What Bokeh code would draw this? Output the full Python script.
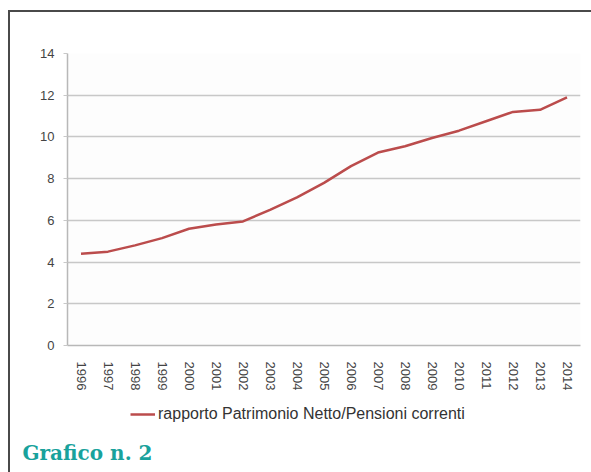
import math
from bokeh.plotting import figure
from bokeh.layouts import column
from bokeh.models import (Range1d, FactorRange, Legend, LegendItem, Label,
                          ColumnDataSource)
from bokeh.embed import file_html
from bokeh.resources import INLINE

years = [str(y) for y in range(1996, 2015)]
ratio = [4.4, 4.5, 4.8, 5.15, 5.6, 5.8, 5.95, 6.5, 7.1, 7.8, 8.6, 9.25,
         9.55, 9.95, 10.3, 10.75, 11.2, 11.3, 11.9]
series_name = "rapporto Patrimonio Netto/Pensioni correnti"
caption = "Grafico n. 2"
y_ticks = [0, 2, 4, 6, 8, 10, 12, 14]

FONT = "Liberation Sans"
LINE_COLOR = "#bb4c4c"

src = ColumnDataSource(dict(x=years, y=ratio))

# ---- main chart ----
p = figure(width=581, height=383, output_backend="svg", toolbar_location=None,
           x_range=FactorRange(*years), y_range=Range1d(0, 14),
           min_border_left=57, min_border_right=11, min_border_top=41,
           min_border_bottom=50)
p.frame_align = False
p.outline_line_color = None
p.background_fill_color = "#fdfdfd"
p.border_fill_color = "white"

p.line("x", "y", source=src, line_color=LINE_COLOR, line_width=2.5)

p.yaxis.ticker = y_ticks
p.ygrid.grid_line_color = "#c8c8c8"
p.ygrid.grid_line_width = 1.5
p.xgrid.grid_line_color = None

for ax in (p.xaxis[0], p.yaxis[0]):
    ax.axis_line_color = "#b8b8b8"
    ax.axis_line_width = 1.5
    ax.major_label_text_font = FONT
    ax.major_label_text_color = "#444444"
    ax.major_label_text_font_size = "13px"
    ax.minor_tick_line_color = None

p.yaxis.major_tick_line_color = "#c8c8c8"
p.yaxis.major_tick_out = 4
p.yaxis.major_tick_in = 0
p.yaxis.major_label_standoff = 9

p.xaxis.major_tick_line_color = None
p.xaxis.major_label_orientation = -math.pi / 2
p.xaxis.major_label_standoff = 10

# ---- footer: legend + caption (its own frame fills the whole strip) ----
f = figure(width=581, height=77, output_backend="svg", toolbar_location=None,
           x_range=FactorRange(*years), y_range=Range1d(20, 21),
           x_axis_type=None, y_axis_type=None,
           min_border=0, min_border_left=0, min_border_right=0,
           min_border_top=0, min_border_bottom=0)
f.frame_align = False
f.outline_line_color = None
f.grid.grid_line_color = None
f.background_fill_color = "white"
f.border_fill_color = "white"

# same series, kept out of this strip's view: only its legend key shows
key = f.line("x", "y", source=src, line_color=LINE_COLOR, line_width=2.5)
legend = Legend(items=[LegendItem(label=series_name, renderers=[key])],
                location=(120, 49), orientation="horizontal",
                border_line_color=None, background_fill_alpha=0,
                padding=0, margin=0, glyph_width=25, glyph_height=18,
                label_standoff=3, label_text_font=FONT,
                label_text_font_size="16px", label_text_color="#333333")
f.add_layout(legend, "center")

title = Label(x=12, y=20, x_units="screen", y_units="screen", text=caption,
              text_font="DejaVu Serif", text_font_style="bold",
              text_font_size="20px", text_color="#18a29c",
              text_baseline="alphabetic")
f.add_layout(title)

layout = column(p, f, spacing=0, margin=(10, 0, 0, 8),
                styles={"border-left": "2px solid #4a4a4a",
                        "border-top": "2px solid #4a4a4a"})

open("out.html", "w").write(file_html(layout, INLINE))
